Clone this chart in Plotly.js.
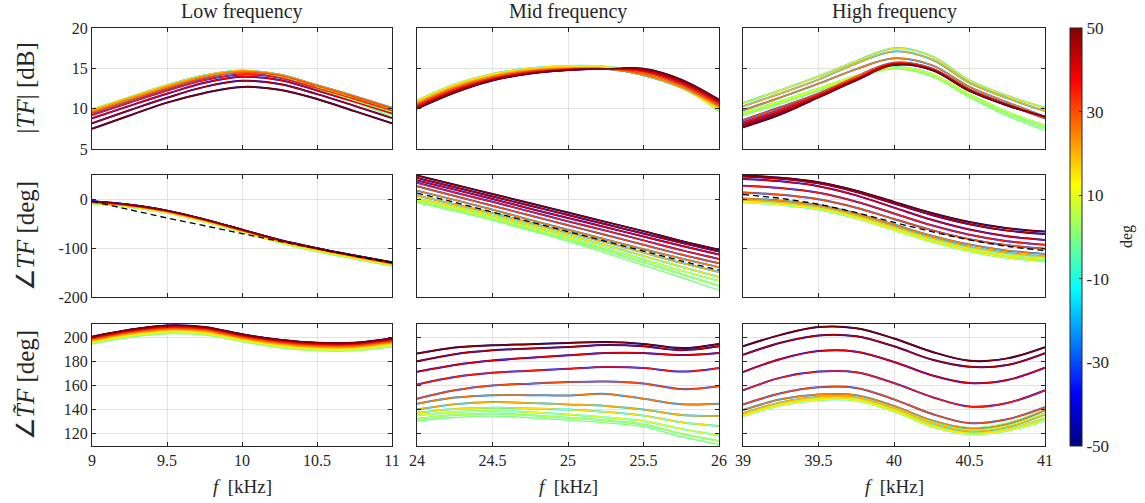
<!DOCTYPE html>
<html><head><meta charset="utf-8">
<script src="https://cdn.plot.ly/plotly-3.0.1.min.js"></script>
<style>html,body{margin:0;padding:0;background:#fff}#plot{width:1145px;height:503px}</style>
</head><body><div id="plot"></div>
<script>
// ---- data ----
const angles = [-50,-45,-40,-35,-30,-25,-20,-15,-10,-5,0,5,10,15,20,25,30,35,40,45,50];
const absAngles = [0,5,10,15,20,25,30,35,40,45,50];
const fLow  = [9, 9.25, 9.5, 9.75, 10, 10.25, 10.5, 10.75, 11];
const fMid  = [24, 24.25, 24.5, 24.75, 25, 25.25, 25.5, 25.75, 26];
const fHigh = [39, 39.25, 39.5, 39.75, 40, 40.25, 40.5, 40.75, 41];
const panelTitles = ['Low frequency', 'Mid frequency', 'High frequency'];

// rows: |angle| = 0,5,...,50 deg
const lowMag = [
 [9.7, 11.2, 12.7, 14.0, 14.6, 14.0, 12.5, 10.8, 9.0],
 [9.8, 11.3, 12.8, 14.05, 14.65, 14.05, 12.6, 11.0, 9.3],
 [9.9, 11.4, 12.9, 14.1, 14.7, 14.15, 12.75, 11.25, 9.6],
 [9.9, 11.4, 12.9, 14.1, 14.7, 14.2, 12.85, 11.4, 9.85],
 [9.8, 11.35, 12.85, 14.1, 14.7, 14.2, 12.9, 11.5, 10.05],
 [9.65, 11.2, 12.7, 14.0, 14.65, 14.2, 12.9, 11.55, 10.1],
 [9.45, 11.0, 12.5, 13.8, 14.5, 14.1, 12.8, 11.45, 10.0],
 [9.2, 10.75, 12.25, 13.55, 14.25, 13.85, 12.55, 11.2, 9.75],
 [8.8, 10.35, 11.85, 13.2, 13.95, 13.55, 12.25, 10.85, 9.4],
 [8.2, 9.8, 11.35, 12.7, 13.45, 13.05, 11.8, 10.35, 8.85],
 [7.5, 9.15, 10.75, 11.95, 12.7, 12.35, 11.2, 9.7, 8.2]
];
const midMag = [
 [10.8, 12.85, 14.15, 14.9, 15.2, 15.2, 14.45, 12.75, 9.6],
 [10.9, 12.95, 14.25, 14.95, 15.25, 15.2, 14.4, 12.7, 9.7],
 [10.95, 12.95, 14.25, 14.95, 15.2, 15.1, 14.3, 12.65, 9.85],
 [11.0, 13.0, 14.3, 15.0, 15.3, 15.2, 14.3, 12.6, 9.95],
 [10.8, 12.8, 14.1, 14.85, 15.1, 15.0, 14.15, 12.6, 10.1],
 [10.65, 12.65, 14.0, 14.75, 15.0, 14.95, 14.2, 12.7, 10.25],
 [10.5, 12.5, 13.85, 14.65, 14.95, 14.95, 14.35, 12.9, 10.45],
 [10.35, 12.35, 13.75, 14.55, 14.9, 14.95, 14.55, 13.1, 10.65],
 [10.2, 12.2, 13.65, 14.45, 14.85, 14.95, 14.7, 13.3, 10.8],
 [10.1, 12.1, 13.55, 14.4, 14.8, 14.95, 14.85, 13.45, 10.95],
 [10.0, 12.0, 13.5, 14.35, 14.8, 14.95, 14.95, 13.6, 11.1]
];
const highMag = [
 [9.15, 10.6, 12.2, 13.8, 14.95, 14.0, 11.4, 9.1, 7.3],
 [9.3, 10.75, 12.35, 13.95, 15.05, 14.15, 11.6, 9.35, 7.6],
 [9.5, 10.95, 12.5, 14.1, 15.15, 14.3, 11.8, 9.6, 7.9],
 [10.7, 12.3, 14.0, 15.9, 17.5, 16.5, 13.5, 11.6, 10.1],
 [10.3, 11.9, 13.6, 15.6, 17.1, 16.1, 13.2, 11.3, 9.7],
 [9.8, 11.4, 13.1, 14.9, 16.25, 15.4, 12.7, 10.8, 9.0],
 [8.6, 10.2, 11.9, 14.0, 15.7, 15.0, 12.4, 10.5, 8.8],
 [8.3, 9.9, 11.7, 13.8, 15.6, 14.95, 12.35, 10.5, 8.95],
 [8.1, 9.7, 11.6, 13.7, 15.6, 14.9, 12.3, 10.5, 9.0],
 [7.9, 9.5, 11.5, 13.6, 15.5, 14.85, 12.25, 10.45, 9.0],
 [7.7, 9.3, 11.4, 13.5, 15.4, 14.8, 12.2, 10.4, 9.0]
];
const lowPhase = [
 [-8.5, -15.5, -28, -46, -67, -89, -107, -122, -136.5],
 [-8, -15, -27.5, -45.5, -66.5, -88, -106, -121, -135.5],
 [-7.5, -14.5, -27, -45, -66, -87.5, -105, -120, -134.5],
 [-7, -14, -26, -44, -65, -86.5, -104, -119, -133.5],
 [-6.5, -13.5, -25.5, -43.5, -64.5, -85.5, -103, -118, -132.5],
 [-6, -13, -25, -43, -64, -85, -102, -117, -131.5],
 [-5.5, -12.5, -24.5, -42.5, -63.5, -84.5, -101.5, -116.5, -131],
 [-5, -12, -24, -42, -63, -84, -101, -116, -130.5],
 [-4.5, -11.5, -23.5, -41.5, -62.5, -83.5, -100.5, -115.5, -130],
 [-4, -11, -23, -41, -62, -83, -100, -115, -129.5],
 [-4, -11, -23, -41, -62, -83, -100, -115, -129]
];
const midPhase = [
 [-7, -24, -43, -64, -86, -110, -135, -160, -186],
 [-4, -21, -40, -61, -82, -105, -129, -153, -177],
 [-1, -18, -37, -57, -78, -100, -123, -146, -167],
 [2, -15, -33, -53, -73, -94, -116, -138, -159],
 [8, -10, -28, -48, -68, -88, -109, -130, -149],
 [18, -1, -21, -42, -62, -82, -102, -121, -139],
 [27, 7, -13, -33, -53, -73, -93, -113, -131],
 [34, 14, -5, -25, -45, -64, -84, -104, -122],
 [39, 20, 1, -19, -38, -57, -76, -95, -113],
 [44, 25, 6, -13, -32, -51, -70, -89, -107],
 [49, 30, 11, -8, -27, -46, -65, -85, -103]
];
const highPhase = [
 [-4, -8.6, -17.7, -34.8, -57.6, -80.4, -98.6, -111, -118],
 [-5, -9.7, -19, -36.6, -60, -83.4, -102, -115, -122],
 [-6, -10.8, -20.5, -38.7, -62.9, -87.1, -106.4, -119.7, -127],
 [-4, -8.8, -18.4, -36.4, -60.4, -84.4, -103.6, -116.8, -124],
 [-1, -5.6, -14.9, -32.3, -55.5, -78.7, -97.3, -110, -117],
 [2, -2.6, -11.7, -28.8, -51.6, -74.4, -92.6, -105, -112],
 [14, 9.4, 0.2, -17, -40, -63, -81.5, -94, -101],
 [28, 23.2, 13.5, -4.7, -28.9, -53.1, -72.4, -85.7, -93],
 [42, 37, 27, 8.3, -16.8, -41.8, -61.8, -75.5, -83],
 [47, 42.3, 32.8, 15.1, -8.5, -32, -51, -64, -71],
 [49, 44.4, 35.2, 18, -5, -28, -46.5, -59, -66]
];
const lowPhaseRef  = [-4, -21, -38, -54, -70, -86, -101, -116, -130];
const midPhaseRef  = [13, -6, -26, -46, -66, -86, -106, -126, -145];
const highPhaseRef = [10, 2, -10, -27, -47, -66, -83, -96, -105];
const lowTilde = [
 [194.5, 200.0, 203.0, 202.0, 196.5, 191.5, 189.0, 189.0, 192.0],
 [195.1, 200.5, 203.6, 202.5, 196.9, 191.9, 189.4, 189.4, 192.7],
 [195.8, 201.2, 204.4, 203.2, 197.5, 192.6, 190.1, 190.1, 193.5],
 [196.5, 201.9, 205.2, 204.0, 198.2, 193.4, 190.9, 190.9, 194.4],
 [197.2, 202.7, 206.0, 204.8, 198.9, 194.2, 191.7, 191.7, 195.2],
 [197.9, 203.4, 206.8, 205.6, 199.6, 195.0, 192.5, 192.5, 196.0],
 [198.5, 204.1, 207.5, 206.3, 200.3, 195.7, 193.2, 193.2, 196.7],
 [199.1, 204.8, 208.2, 207.0, 201.0, 196.4, 193.9, 193.9, 197.4],
 [199.7, 205.4, 208.9, 207.6, 201.6, 197.1, 194.6, 194.6, 198.1],
 [200.2, 206.0, 209.5, 208.2, 202.2, 197.7, 195.2, 195.2, 198.7],
 [200.5, 206.3, 209.8, 208.5, 202.5, 198.0, 195.5, 195.5, 199.0]
];
const midTilde = [
 [130.5, 133.5, 134.6, 133.2, 131.3, 129.0, 125.8, 117.5, 111.2],
 [132.4, 135.5, 136.8, 135.3, 133.2, 131.0, 127.7, 120.0, 114.0],
 [135.2, 138.0, 138.8, 137.8, 136.0, 133.5, 130.5, 124.0, 118.6],
 [137.4, 140.5, 141.5, 141.0, 140.0, 138.0, 135.0, 129.5, 126.3],
 [140.0, 144.5, 146.2, 145.5, 144.3, 143.0, 140.0, 135.5, 134.6],
 [144.8, 150.0, 152.0, 152.0, 151.7, 153.0, 149.0, 144.5, 144.8],
 [149.0, 156.0, 160.0, 161.5, 162.8, 163.3, 161.7, 157.0, 159.4],
 [160.8, 167.0, 170.5, 172.2, 173.8, 175.4, 174.6, 171.5, 174.6],
 [171.3, 177.0, 180.7, 183.0, 185.0, 187.0, 187.0, 185.2, 187.0],
 [180.0, 186.0, 189.2, 190.6, 192.0, 193.5, 192.5, 189.3, 192.5],
 [186.5, 191.5, 193.4, 194.2, 195.3, 196.0, 194.5, 191.0, 194.5]
];
const highTilde = [
 [136.0, 145.0, 150.0, 150.0, 141.5, 130.5, 125.0, 129.0, 140.0],
 [135.5, 144.5, 149.5, 149.0, 140.5, 129.0, 123.0, 126.5, 137.0],
 [134.5, 143.5, 148.0, 147.5, 138.5, 126.0, 119.8, 122.5, 131.0],
 [135.5, 144.5, 149.0, 148.5, 139.5, 127.0, 120.5, 123.5, 133.0],
 [137.0, 146.0, 150.5, 150.0, 141.0, 129.0, 122.0, 125.5, 136.0],
 [139.6, 148.5, 152.5, 152.0, 143.0, 131.0, 124.5, 128.0, 139.6],
 [144.2, 153.5, 158.5, 158.0, 148.5, 136.5, 128.8, 132.0, 142.0],
 [156.0, 166.5, 171.5, 171.0, 162.0, 150.5, 142.5, 145.5, 156.0],
 [171.2, 182.0, 188.5, 188.0, 179.5, 168.5, 162.0, 164.5, 174.7],
 [185.4, 195.5, 201.5, 200.8, 192.5, 181.5, 175.5, 177.0, 186.8],
 [192.6, 202.0, 208.5, 207.5, 199.0, 188.0, 180.5, 182.5, 191.8]
];

const xTickVals = [[9,9.5,10,10.5,11],[24,24.5,25,25.5,26],[39,39.5,40,40.5,41]];
const xTickText = [['9','9.5','10','10.5','11'],['24','24.5','25','25.5','26'],['39','39.5','40','40.5','41']];
const yTickVals = [[5,10,15,20],[-200,-100,0],[120,140,160,180,200]];
const yTickText = [['5','10','15','20'],['-200','-100','0'],['120','140','160','180','200']];
const cbTickVals = [-50,-30,-10,10,30,50];
const cbTickText = ['-50','-30','-10','10','30','50'];

// ---- styling ----
const W = 1145, H = 503;
const FONT = 'Liberation Serif';
const AXC = '#262626';
const colPx = [[92,392],[417,719],[743,1045]];
const rowPx = [[28,149],[175,297],[324,446]];
const yRanges = [[5,20],[-200,50],[109.8,211]];
const freqs = [fLow, fMid, fHigh];
const grid = [
  [lowMag, midMag, highMag],
  [lowPhase, midPhase, highPhase],
  [lowTilde, midTilde, highTilde]
];
const refs = [lowPhaseRef, midPhaseRef, highPhaseRef];

const jetScale = [[0,'rgb(0,0,128)'],[0.125,'rgb(0,0,255)'],[0.375,'rgb(0,255,255)'],[0.625,'rgb(255,255,0)'],[0.875,'rgb(255,0,0)'],[1,'rgb(128,0,0)']];
function jet(t){
  const c = v => Math.max(0, Math.min(1, v));
  const r = t < 0.375 ? 0 : t < 0.625 ? (t-0.375)/0.25 : t < 0.875 ? 1 : 1 - 0.5*(t-0.875)/0.125;
  const g = t < 0.125 ? 0 : t < 0.375 ? (t-0.125)/0.25 : t < 0.625 ? 1 : t < 0.875 ? 1-(t-0.625)/0.25 : 0;
  const b = t < 0.125 ? 0.5+0.5*t/0.125 : t < 0.375 ? 1 : t < 0.625 ? 1-(t-0.375)/0.25 : 0;
  return `rgb(${Math.round(c(r)*255)},${Math.round(c(g)*255)},${Math.round(c(b)*255)})`;
}

const traces = [];
const layout = {
  width: W, height: H, margin: {l:0, r:0, t:0, b:0},
  paper_bgcolor: '#fff', plot_bgcolor: '#fff', showlegend: false,
  font: {family: FONT, color: AXC, size: 16},
  annotations: []
};

for (let r = 0; r < 3; r++) {
  for (let c = 0; c < 3; c++) {
    const n = r*3 + c + 1;
    const xa = n === 1 ? 'x' : 'x' + n, ya = n === 1 ? 'y' : 'y' + n;
    const data = grid[r][c], f = freqs[c];
    for (const a of angles) {
      const row = data[absAngles.indexOf(Math.abs(a))];
      traces.push({
        type: 'scatter', mode: 'lines', x: f, y: row, xaxis: xa, yaxis: ya,
        line: {color: jet((a + 50) / 100), width: a < 0 ? 2.0 : 1.4, shape: 'spline', smoothing: 1},
        hoverinfo: 'skip'
      });
    }
    if (r === 1) {
      traces.push({
        type: 'scatter', mode: 'lines', x: f, y: refs[c], xaxis: xa, yaxis: ya,
        line: {color: '#000', width: 1.3, dash: '6px,4px', shape: 'spline', smoothing: 1},
        hoverinfo: 'skip'
      });
    }
    const key = n === 1 ? '' : n;
    layout['xaxis' + key] = {
      domain: [colPx[c][0]/W, colPx[c][1]/W], anchor: ya,
      range: [f[0], f[f.length-1]],
      tickvals: xTickVals[c], ticktext: xTickText[c], showticklabels: r === 2,
      ticks: 'inside', ticklen: 4, tickcolor: AXC, tickwidth: 1,
      showline: true, linecolor: AXC, linewidth: 1, mirror: 'ticks',
      showgrid: true, gridcolor: '#e3e3e3', gridwidth: 1, zeroline: false,
      tickfont: {family: FONT, size: 16, color: AXC}
    };
    layout['yaxis' + key] = {
      domain: [1 - rowPx[r][1]/H, 1 - rowPx[r][0]/H], anchor: xa,
      range: yRanges[r],
      tickvals: yTickVals[r], ticktext: yTickText[r], showticklabels: c === 0,
      ticks: 'inside', ticklen: 4, tickcolor: AXC, tickwidth: 1,
      showline: true, linecolor: AXC, linewidth: 1, mirror: 'ticks',
      showgrid: true, gridcolor: '#e3e3e3', gridwidth: 1, zeroline: false,
      tickfont: {family: FONT, size: 16, color: AXC}
    };
  }
}

// colorbar carrier
traces.push({
  type: 'scatter', mode: 'markers', x: [9], y: [0], xaxis: 'x', yaxis: 'y',
  marker: {size: 0.1, opacity: 0, color: [0], cmin: -50, cmax: 50, colorscale: jetScale, showscale: true,
    colorbar: {
      x: 1070/W, xanchor: 'left', xpad: 0, ypad: 0,
      y: 1 - 237/H, yanchor: 'middle', len: 418/H, lenmode: 'fraction',
      thickness: 12, thicknessmode: 'pixels',
      outlinewidth: 1, outlinecolor: AXC,
      tickvals: cbTickVals, ticktext: cbTickText,
      ticks: 'inside', ticklen: 3, tickcolor: AXC,
      tickfont: {family: FONT, size: 17, color: AXC}
    }},
  hoverinfo: 'skip'
});

// titles and labels
const yLabels = ['|<i>TF</i>| [dB]', '∠<i>TF</i> [deg]', '∠<i>T\u0303F</i> [deg]'];
for (let c = 0; c < 3; c++) {
  const cx = (colPx[c][0] + colPx[c][1]) / 2 / W;
  layout.annotations.push({text: panelTitles[c], x: cx, y: 1 - 12/H, xref: 'paper', yref: 'paper',
    xanchor: 'center', yanchor: 'middle', showarrow: false, font: {family: FONT, size: 20, color: AXC}});
  layout.annotations.push({text: '<i>f</i>  [kHz]', x: cx, y: 1 - 486/H, xref: 'paper', yref: 'paper',
    xanchor: 'center', yanchor: 'middle', showarrow: false, font: {family: FONT, size: 19, color: AXC}});
}
for (let r = 0; r < 3; r++) {
  const cy = 1 - (rowPx[r][0] + rowPx[r][1]) / 2 / H;
  layout.annotations.push({text: yLabels[r], x: 25/W, y: cy, xref: 'paper', yref: 'paper',
    xanchor: 'center', yanchor: 'middle', textangle: -90, showarrow: false, font: {family: FONT, size: 25, color: AXC}});
}
layout.annotations.push({text: 'deg', x: 1127/W, y: 1 - 237/H, xref: 'paper', yref: 'paper',
  xanchor: 'center', yanchor: 'middle', textangle: -90, showarrow: false, font: {family: FONT, size: 16, color: AXC}});

Plotly.newPlot('plot', traces, layout, {displayModeBar: false, staticPlot: true});
</script>
</body></html>
